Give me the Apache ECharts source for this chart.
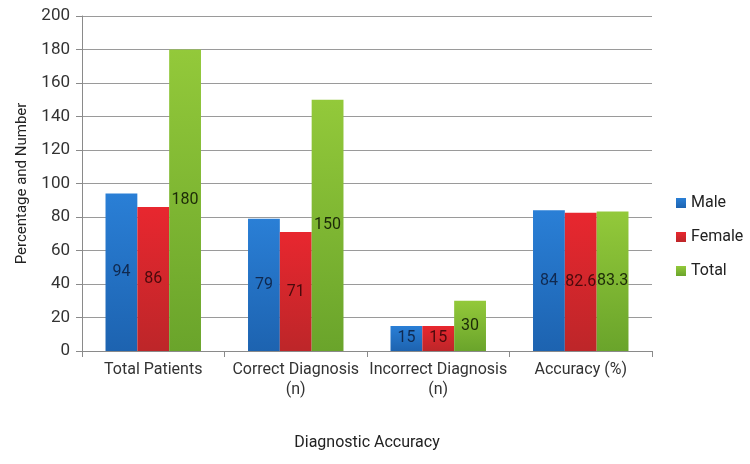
<!DOCTYPE html>
<html>
<head>
<meta charset="utf-8">
<title>Diagnostic Accuracy</title>
<script src="https://cdn.jsdelivr.net/npm/echarts@6/dist/echarts.min.js"></script>
<style>
  html, body { margin: 0; padding: 0; background: #fff; }
  #chart { width: 750px; height: 464px; }
</style>
</head>
<body>
<div id="chart"></div>
<script>
// data
var categories = ['Total Patients', 'Correct Diagnosis\n(n)', 'Incorrect Diagnosis\n(n)', 'Accuracy (%)'];
var male = [94, 79, 15, 84];
var female = [86, 71, 15, 82.6];
var total = [180, 150, 30, 83.3];
var yTicks = { min: 0, max: 200, step: 20 };

function grad(top, bottom) {
    return new echarts.graphic.LinearGradient(0, 0, 0, 1, [
        { offset: 0, color: top },
        { offset: 1, color: bottom }
    ]);
}

function makeSeries(name, data, top, bottom, labelColor) {
    return {
        name: name,
        type: 'bar',
        data: data,
        barGap: '0%',
        barCategoryGap: '33%',
        itemStyle: { color: grad(top, bottom) },
        label: {
            show: true,
            position: 'inside',
            fontSize: 16,
            fontFamily: 'Roboto',
            color: labelColor
        }
    };
}

var chart = echarts.init(document.getElementById('chart'));
var option = {
    animation: false,
    color: ['#2678cc', '#e0262e', '#86bf36'],
    grid: { left: 82, right: 98, top: 16, bottom: 113 },
    legend: {
        orient: 'vertical',
        left: 671,
        top: 190,
        itemWidth: 10,
        itemHeight: 10,
        itemGap: 18,
        icon: 'rect',
        textStyle: { fontSize: 16, fontFamily: 'Roboto', color: '#222' },
        data: ['Male', 'Female', 'Total']
    },
    xAxis: {
        type: 'category',
        data: categories,
        name: 'Diagnostic Accuracy',
        nameLocation: 'middle',
        nameGap: 84,
        nameTextStyle: { fontSize: 16, fontFamily: 'Roboto', color: '#222' },
        axisLine: { lineStyle: { color: '#8a8a8a', width: 1 } },
        axisTick: { show: true, length: 6, lineStyle: { color: '#8a8a8a' } },
        axisLabel: { interval: 0, fontSize: 16, fontFamily: 'Roboto', color: '#333', margin: 9, lineHeight: 20 }
    },
    yAxis: {
        type: 'value',
        min: yTicks.min,
        max: yTicks.max,
        interval: yTicks.step,
        name: 'Percentage and Number',
        nameLocation: 'middle',
        nameGap: 52,
        nameTextStyle: { fontSize: 15, fontFamily: 'Roboto', color: '#222' },
        axisLine: { show: true, lineStyle: { color: '#8a8a8a', width: 1 } },
        axisTick: { show: true, length: 6, lineStyle: { color: '#8a8a8a' } },
        axisLabel: { fontSize: 17, fontFamily: 'Roboto', color: '#333', margin: 12 },
        splitLine: { lineStyle: { color: '#9a9a9a', width: 1 } }
    },
    series: [
        makeSeries('Male', male, '#2a7fd6', '#1d63b0', '#10294f'),
        makeSeries('Female', female, '#e8272f', '#bd2629', '#4a0a0c'),
        makeSeries('Total', total, '#93c93a', '#6aa42b', '#1c2a08')
    ]
};
chart.setOption(option);
</script>
</body>
</html>
